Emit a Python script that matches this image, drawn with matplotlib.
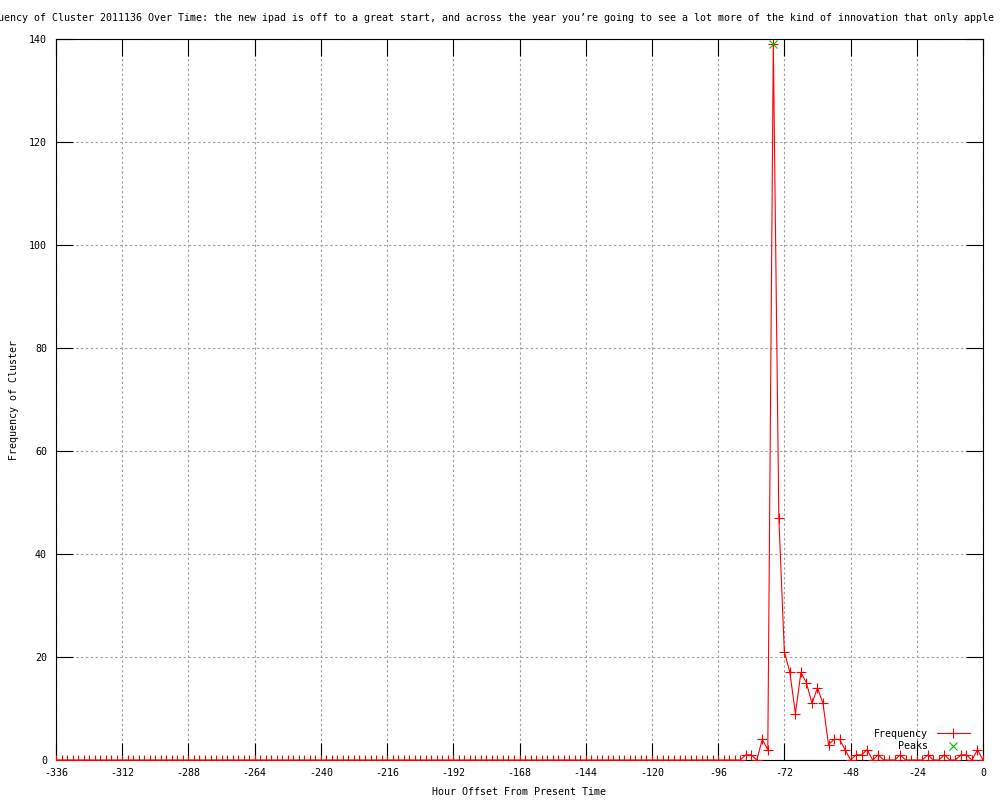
import matplotlib
matplotlib.use('Agg')
import matplotlib.pyplot as plt

# hourly bins, every 2 hours from two weeks back up to now
hours = list(range(-336, 1, 2))

# frequency per bin
freq = [
    0, 0, 0, 0, 0, 0, 0, 0, 0, 0, 0, 0, 0, 0, 0, 0, 0, 0, 0, 0, 0, 0, 0, 0, 0,
    0, 0, 0, 0, 0, 0, 0, 0, 0, 0, 0, 0, 0, 0, 0, 0, 0, 0, 0, 0, 0, 0, 0, 0, 0,
    0, 0, 0, 0, 0, 0, 0, 0, 0, 0, 0, 0, 0, 0, 0, 0, 0, 0, 0, 0, 0, 0, 0, 0, 0,
    0, 0, 0, 0, 0, 0, 0, 0, 0, 0, 0, 0, 0, 0, 0, 0, 0, 0, 0, 0, 0, 0, 0, 0, 0,
    0, 0, 0, 0, 0, 0, 0, 0, 0, 0, 0, 0, 0, 0, 0, 0, 0, 0, 0, 0, 0, 0, 0, 0, 0,
    1, 1, 0, 4, 2, 139, 47, 21, 17, 9, 17, 15, 11, 14, 11, 3, 4, 4, 2, 0,
    1, 1, 2, 0, 1, 0, 0, 0, 1, 0, 0, 0, 0, 1, 0, 0, 1, 0, 0, 1, 1, 0, 2, 0,
]

peak_hours = [-76]
peak_freq = [139]

xticks = list(range(-336, 1, 24))
yticks = list(range(0, 141, 20))

title = ("Frequency of Cluster 2011136 Over Time: the new ipad is off to a great start, "
         "and across the year you\u2019re going to see a lot more of the kind of innovation "
         "that only apple can deliver")

plt.rcParams['font.family'] = ['DejaVu Sans Mono']
plt.rcParams['font.size'] = 7.2
plt.rcParams['axes.unicode_minus'] = False

fig = plt.figure(figsize=(10, 8), dpi=100)
fig.patch.set_facecolor('white')
ax = fig.add_axes([0.056, 0.05, 0.927, 0.90125])

ax.plot(hours, freq, color='#ff0000', lw=0.8, marker='+', ms=6.5, mew=0.8,
        label='Frequency', zorder=3)
ax.plot(peak_hours, peak_freq, ls='none', color='#00c000', marker='x', ms=5.5,
        mew=0.8, label='Peaks', zorder=4)

ax.set_xlim(-336, 0)
ax.set_ylim(0, 140)
ax.set_xticks(xticks)
ax.set_yticks(yticks)
ax.tick_params(direction='in', top=True, right=True, length=12.2, width=0.8,
               colors='black', labelsize=7.2)
ax.tick_params(axis='x', pad=6)
ax.tick_params(axis='y', pad=6.5)
for s in ax.spines.values():
    s.set_linewidth(0.8)

ax.grid(True, color='#a0a0a0', lw=0.8, ls=(0, (2.2, 2.2)))
ax.set_axisbelow(True)

# long title, centred over the plot area (runs off both edges like the original)
fig.text(0.5195, 0.978, title, ha='center', va='center', fontsize=7.2)
ax.set_xlabel('Hour Offset From Present Time', fontsize=7.2, labelpad=6)
ax.set_ylabel('Frequency of Cluster', fontsize=7.2, labelpad=7)

ax.legend(loc='lower right', bbox_to_anchor=(0.991, 0.005), frameon=False,
          markerfirst=False, handlelength=3.3, handletextpad=0.9,
          labelspacing=0.25, borderpad=0, fontsize=7.2)

plt.savefig('out.png', dpi=100, facecolor='white')
plt.close()
